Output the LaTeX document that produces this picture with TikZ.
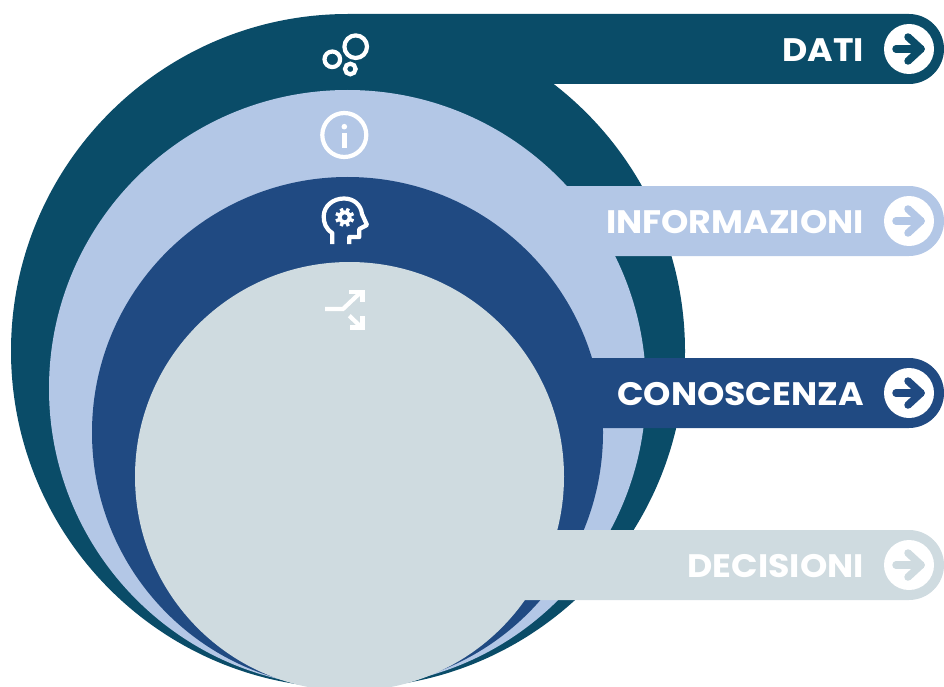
\documentclass[tikz,border=0pt]{standalone}
\usepackage{fontspec}
\setmainfont[FakeStretch=1.07]{Poppins}
\usetikzlibrary{shapes.misc}

\definecolor{tealdark}{HTML}{0A4C68}
\definecolor{bluelight}{HTML}{B3C7E6}
\definecolor{bluenavy}{HTML}{204A82}
\definecolor{greypale}{HTML}{CFDBE0}

\tikzset{
	disc/.style={circle,inner sep=0pt},
	bar/.style={rounded rectangle,rounded rectangle left arc=none,inner sep=0pt,minimum width=596pt,minimum height=70pt},
	barlabel/.style={anchor=base east,text=white,inner sep=0pt,font={\fontsize{32.5}{32.5}\bfseries\selectfont}},
	badge/.style={circle,fill=white,inner sep=0pt,minimum size=50pt},
	badgearrow/.style={line width=7.5pt,line cap=round,line join=round},
	icon/.style={draw=white,line width=4.2pt},
}

\begin{document}
\begin{tikzpicture}[x=1pt,y=-1pt]
	\useasboundingbox (0,0) rectangle (944,687);
	\clip (0,0) rectangle (944,687);

	% discs and their bars, back to front
	\node[disc,fill=tealdark,minimum size=674pt] (discdati) at (348,351) {};
	\node[bar,fill=tealdark] (bardati) at (646,49) {};

	\node[disc,fill=bluelight,minimum size=597pt] (discinfo) at (347.5,388.5) {};
	\node[bar,fill=bluelight] (barinfo) at (646,221) {};

	\node[disc,fill=bluenavy,minimum size=511pt] (disccono) at (347.5,432.5) {};
	\node[bar,fill=bluenavy] (barcono) at (646,393) {};

	\node[disc,fill=greypale,minimum size=429pt] (discdeci) at (349.5,476.5) {};
	\node[bar,fill=greypale] (bardeci) at (646,565) {};

	% labels
	\node[barlabel] (labeldati) at (864,61.5) {DATI};
	\node[barlabel] (labelinfo) at (864,233.5) {INFORMAZIONI};
	\node[barlabel] (labelcono) at (864,405.5) {CONOSCENZA};
	\node[barlabel] (labeldeci) at (864,577.5) {DECISIONI};

	% round arrows at the end of the bars
	\node[badge] (badgedati) at (909,49) {};
	\draw[badgearrow,tealdark] ([xshift=-13pt]badgedati.center) -- ([xshift=12pt]badgedati.center);
	\draw[badgearrow,tealdark] ([shift={(-1,-12)}]badgedati.center) -- ([xshift=12pt]badgedati.center) -- ([shift={(-1,12)}]badgedati.center);

	\node[badge] (badgeinfo) at (909,221) {};
	\draw[badgearrow,bluelight] ([xshift=-13pt]badgeinfo.center) -- ([xshift=12pt]badgeinfo.center);
	\draw[badgearrow,bluelight] ([shift={(-1,-12)}]badgeinfo.center) -- ([xshift=12pt]badgeinfo.center) -- ([shift={(-1,12)}]badgeinfo.center);

	\node[badge] (badgecono) at (909,393) {};
	\draw[badgearrow,bluenavy] ([xshift=-13pt]badgecono.center) -- ([xshift=12pt]badgecono.center);
	\draw[badgearrow,bluenavy] ([shift={(-1,-12)}]badgecono.center) -- ([xshift=12pt]badgecono.center) -- ([shift={(-1,12)}]badgecono.center);

	\node[badge] (badgedeci) at (909,565) {};
	\draw[badgearrow,greypale] ([xshift=-13pt]badgedeci.center) -- ([xshift=12pt]badgedeci.center);
	\draw[badgearrow,greypale] ([shift={(-1,-12)}]badgedeci.center) -- ([xshift=12pt]badgedeci.center) -- ([shift={(-1,12)}]badgedeci.center);

	% bubbles icon
	\draw[icon] (355.7,46.7) circle (11.3);
	\draw[icon] (332.3,59.3) circle (7.8);
	\draw[icon] (350.3,69) circle (5.3);

	% info icon
	\draw[icon] (344.3,135) circle (22);
	\fill[white] (344.3,126.7) circle (2.8);
	\fill[white] (341.8,133) rectangle (346.8,148);

	% head icon
	\draw[icon,line join=round] (332.3,244) -- (332.3,233) .. controls (326,229) and (323.5,223) .. (323.7,216)
		.. controls (324,206) and (333,198.5) .. (344,198.5) .. controls (354,198.5) and (361,205) .. (362,214)
		-- (367,225) -- (359.3,229) -- (359.3,237) -- (349.3,237) -- (349.3,244);
	\draw[white,line width=3.6pt] (344.7,217.3) circle (5);
	\foreach \a in {22.5,67.5,...,337.5}
		\draw[white,line width=3.4pt] (344.7,217.3) ++(\a:5.5) -- ++(\a:4);

	% split icon
	\draw[icon] (325,309) -- (343,309) -- (361,292);
	\draw[icon] (349.3,291.7) -- (362.5,291.7) -- (362.5,302);
	\draw[icon] (349.3,315.7) -- (362,328);
	\draw[icon] (350,327.5) -- (362.5,327.5) -- (362.5,316);
\end{tikzpicture}
\end{document}
